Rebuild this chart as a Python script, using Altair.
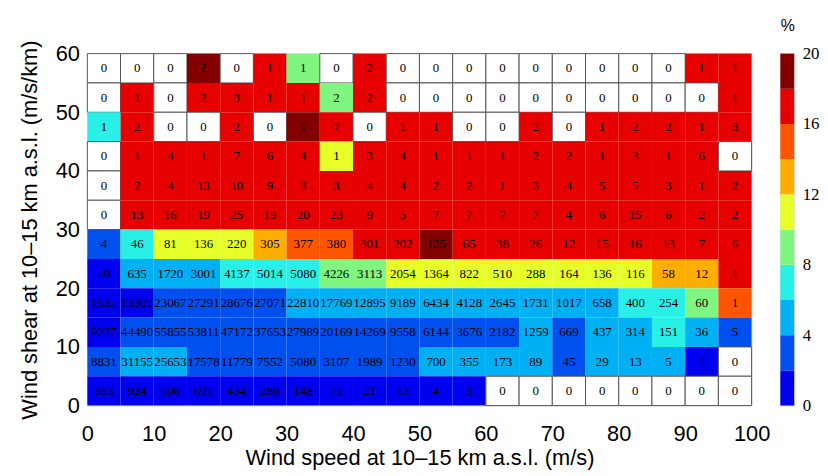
import altair as alt
import pandas as pd

# Wind-speed bins (lower edges, m/s) and wind-shear bins (lower edges, m/s/km), top row first
speed_bins = [0, 5, 10, 15, 20, 25, 30, 35, 40, 45, 50, 55, 60, 65, 70, 75, 80, 85, 90, 95]
shear_bins = [55, 50, 45, 40, 35, 30, 25, 20, 15, 10, 5, 0]

# Counts shown in each cell, one list per shear bin
counts_55 = [0, 0, 0, 2, 0, 1, 1, 0, 2, 0, 0, 0, 0, 0, 0, 0, 0, 0, 1, 1]
counts_50 = [0, 1, 0, 2, 3, 1, 1, 2, 2, 0, 0, 0, 0, 0, 0, 0, 0, 0, 0, 1]
counts_45 = [1, 2, 0, 0, 2, 0, 1, 7, 0, 1, 1, 0, 0, 2, 0, 1, 2, 2, 1, 3]
counts_40 = [0, 1, 4, 1, 7, 6, 4, 1, 3, 4, 1, 1, 1, 2, 2, 1, 3, 1, 6, 0]
counts_35 = [0, 2, 4, 13, 10, 9, 3, 3, 4, 4, 2, 2, 1, 3, 4, 5, 5, 3, 1, 2]
counts_30 = [0, 13, 16, 19, 25, 19, 20, 23, 9, 5, 7, 7, 7, 7, 4, 6, 15, 6, 2, 2]
counts_25 = [4, 46, 81, 136, 220, 305, 377, 380, 301, 202, 125, 65, 38, 26, 12, 15, 16, 13, 7, 6]
counts_20 = [40, 635, 1720, 3001, 4137, 5014, 5080, 4226, 3113, 2054, 1364, 822, 510, 288, 164, 136, 116, 58, 12, 1]
counts_15 = [1535, 13301, 23067, 27291, 28676, 27071, 22810, 17769, 12895, 9189, 6434, 4128, 2645, 1731, 1017, 658, 400, 254, 60, 1]
counts_10 = [9227, 44490, 55855, 53811, 47172, 37653, 27989, 20169, 14269, 9558, 6144, 3676, 2182, 1259, 669, 437, 314, 151, 36, 5]
counts_05 = [8831, 31155, 25653, 17578, 11779, 7552, 5080, 3107, 1989, 1230, 700, 355, 173, 89, 45, 29, 13, 5, 1, 0]
counts_00 = [363, 924, 906, 691, 434, 286, 148, 75, 21, 13, 4, 3, 0, 0, 0, 0, 0, 0, 0, 0]

# Percentage (colour) of each cell, estimated from the colour bar
pct_55 = [0, 0, 0, 19, 0, 17, 9, 0, 17, 0, 0, 0, 0, 0, 0, 0, 0, 0, 17, 17]
pct_50 = [0, 17, 0, 17, 17, 17, 17, 9, 17, 0, 0, 0, 0, 0, 0, 0, 0, 0, 0, 17]
pct_45 = [7, 17, 0, 0, 17, 0, 19, 17, 0, 17, 17, 0, 0, 17, 0, 17, 17, 17, 17, 17]
pct_40 = [0, 17, 17, 17, 17, 17, 17, 11, 17, 17, 17, 17, 17, 17, 17, 17, 17, 17, 17, 0]
pct_35 = [0, 17, 17, 17, 17, 17, 17, 17, 17, 17, 17, 17, 17, 17, 17, 17, 17, 17, 17, 17]
pct_30 = [0, 17, 17, 17, 17, 17, 17, 17, 17, 17, 17, 17, 17, 17, 17, 17, 17, 17, 17, 17]
pct_25 = [3, 7, 11, 11, 11, 13, 15, 15, 17, 17, 19, 17, 17, 17, 17, 17, 17, 17, 17, 17]
pct_20 = [1, 5, 5, 5, 7, 7, 7, 9, 9, 11, 11, 11, 11, 11, 11, 11, 11, 13, 13, 17]
pct_15 = [1, 1, 3, 3, 3, 3, 5, 5, 5, 5, 5, 5, 5, 5, 5, 5, 7, 7, 9, 15]
pct_10 = [1, 3, 3, 3, 3, 3, 3, 3, 3, 3, 3, 3, 3, 5, 3, 5, 5, 7, 5, 3]
pct_05 = [3, 5, 5, 3, 3, 3, 3, 3, 3, 3, 5, 5, 5, 5, 3, 5, 5, 5, 1, 0]
pct_00 = [1, 1, 1, 1, 1, 1, 1, 1, 1, 1, 1, 1, 0, 0, 0, 0, 0, 0, 0, 0]

# Colour bar levels (%)
level_lo = [0, 2, 4, 6, 8, 10, 12, 14, 16, 18]
level_colors = ["#0000f0", "#0050f0", "#00b0f5", "#28f0e6", "#80f580",
                "#e6ff28", "#ffae00", "#ff5500", "#e60000", "#820000"]
bar_ticks = [0, 4, 8, 12, 16, 20]
x_ticks = [0, 10, 20, 30, 40, 50, 60, 70, 80, 90, 100]
y_ticks = [0, 10, 20, 30, 40, 50, 60]

count_rows = [counts_55, counts_50, counts_45, counts_40, counts_35, counts_30,
              counts_25, counts_20, counts_15, counts_10, counts_05, counts_00]
pct_rows = [pct_55, pct_50, pct_45, pct_40, pct_35, pct_30,
            pct_25, pct_20, pct_15, pct_10, pct_05, pct_00]

recs = []
for shear, cnts, pcts in zip(shear_bins, count_rows, pct_rows):
    for sp, c, p in zip(speed_bins, cnts, pcts):
        recs.append({"x0": sp, "x1": sp + 5, "xc": sp + 2.5,
                     "y0": shear, "y1": shear + 5, "yc": shear + 2.5,
                     "count": c, "pct": p})
df = pd.DataFrame(recs)

bar_df = pd.DataFrame({"lo": level_lo, "hi": [v + 2 for v in level_lo],
                       "mid": [v + 1 for v in level_lo]})

sans = "Liberation Sans"
serif = "Liberation Serif"

xscale = alt.Scale(domain=[0, 100], nice=False, zero=False)
yscale = alt.Scale(domain=[0, 60], nice=False, zero=False)

color_scale = alt.Scale(type="threshold", domain=level_lo[1:], range=level_colors)

base = alt.Chart(df)

cells = base.mark_rect(strokeWidth=1).encode(
    x=alt.X("x0:Q", scale=xscale,
            axis=alt.Axis(values=x_ticks, title="Wind speed at 10\u201315 km a.s.l. (m/s)",
                          labelFont=sans, labelFontSize=22, titleFont=sans, titleFontSize=22,
                          titleFontWeight="normal", ticks=False, domain=False, grid=False,
                          labelPadding=18, titlePadding=3, labelColor="black", titleColor="black",
                          labelFlush=False)),
    x2="x1:Q",
    y=alt.Y("y0:Q", scale=yscale,
            axis=alt.Axis(values=y_ticks, title="Wind shear at 10\u201315 km a.s.l. (m/s/km)",
                          labelFont=sans, labelFontSize=22, titleFont=sans, titleFontSize=22,
                          titleFontWeight="normal", ticks=False, domain=False, grid=False,
                          labelPadding=8, titlePadding=14, labelColor="black", titleColor="black",
                          labelFlush=False)),
    y2="y1:Q",
    color=alt.condition("datum.count == 0", alt.value("white"),
                        alt.Color("pct:Q", scale=color_scale, legend=None)),
    stroke=alt.condition("datum.count == 0", alt.value("#555555"), alt.value("transparent")),
)

labels = base.mark_text(font=serif, fontSize=13, color="black").encode(
    x=alt.X("xc:Q", scale=xscale),
    y=alt.Y("yc:Q", scale=yscale),
    text=alt.Text("count:Q", format="d"),
)

heat = alt.layer(cells, labels).properties(width=670, height=355)

colorbar = alt.Chart(bar_df).mark_rect().encode(
    y=alt.Y("lo:Q", scale=alt.Scale(domain=[0, 20], nice=False, zero=False),
            axis=alt.Axis(orient="right", values=bar_ticks, title="%", titleAngle=0,
                          titleFont=sans, titleFontSize=16, titleFontWeight="normal",
                          titleX=-7, titleY=-20, titleAlign="center", titleBaseline="bottom",
                          labelFont=serif, labelFontSize=17, ticks=False, domain=False,
                          grid=False, labelPadding=8, labelColor="black", titleColor="black")),
    y2="hi:Q",
    color=alt.Color("mid:Q", scale=color_scale, legend=None),
).properties(width=14, height=355)

chart = alt.hconcat(heat, colorbar, spacing=29, bounds="flush").properties(
    padding={"left": 10, "top": 7, "right": 0, "bottom": 0}
).configure_view(stroke="#888888", strokeWidth=1).configure(background="white")

chart.save("out.html", embed_options={"renderer": "svg", "actions": False})
